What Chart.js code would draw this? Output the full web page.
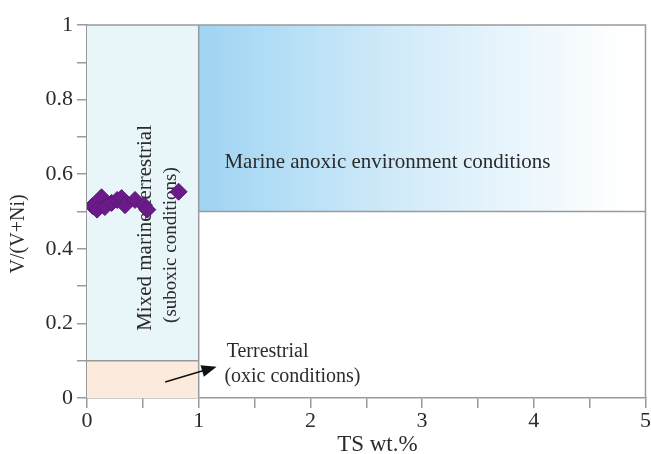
<!DOCTYPE html>
<html>
<head>
<meta charset="utf-8">
<script src="https://cdn.jsdelivr.net/npm/chart.js@4"></script>
<style>
  html, body { margin: 0; padding: 0; background: #fff; }
  #wrap { width: 651px; height: 454px; }
</style>
</head>
<body>
<div id="wrap"><canvas id="vni-chart"></canvas></div>
<script>
// Sample values: total sulphur (wt.%) vs V/(V+Ni)
const tsValues = [0.05, 0.09, 0.13, 0.16, 0.22, 0.27, 0.31, 0.34, 0.43, 0.51, 0.54, 0.82];
const vRatioValues = [0.515, 0.505, 0.538, 0.512, 0.523, 0.531, 0.536, 0.517, 0.531, 0.517, 0.505, 0.553];

// Field boundaries
const tsLimit = 1;
const anoxicLimit = 0.5;
const oxicLimit = 0.1;

const xTickLabels = ['0', '1', '2', '3', '4', '5'];
const yTickLabels = ['0', '0.2', '0.4', '0.6', '0.8', '1'];

const serif = '"Liberation Serif", "Times New Roman", serif';
const frameColor = '#9a9a9a';
const textColor = '#2b2b2b';

// Background fields, frame and labels
const fieldsPlugin = {
  id: 'fields',
  beforeDatasetsDraw(chart) {
    const { ctx, chartArea: a, scales: { x, y } } = chart;
    const x0 = x.getPixelForValue(0), x1 = x.getPixelForValue(tsLimit), x5 = x.getPixelForValue(5);
    const y0 = y.getPixelForValue(0), yOx = y.getPixelForValue(oxicLimit);
    const yAn = y.getPixelForValue(anoxicLimit), yTop = y.getPixelForValue(1);
    ctx.save();
    ctx.fillStyle = '#e8f5f9';
    ctx.fillRect(x0, yTop, x1 - x0, yOx - yTop);
    ctx.fillStyle = '#fcebdc';
    ctx.fillRect(x0, yOx, x1 - x0, y0 - yOx);
    const g = ctx.createLinearGradient(x1, 0, x5, 0);
    g.addColorStop(0, '#9fd4f3');
    g.addColorStop(0.45, '#d2ebf9');
    g.addColorStop(0.95, '#ffffff');
    ctx.fillStyle = g;
    ctx.fillRect(x1, yTop, x5 - x1, yAn - yTop);

    ctx.strokeStyle = frameColor;
    ctx.lineWidth = 1.5;
    ctx.beginPath();
    ctx.moveTo(x1, yTop); ctx.lineTo(x1, y0);
    ctx.moveTo(x1, yAn); ctx.lineTo(x5, yAn);
    ctx.moveTo(x0, yOx); ctx.lineTo(x1, yOx);
    ctx.moveTo(a.left, a.top); ctx.lineTo(a.right, a.top); ctx.lineTo(a.right, a.bottom);
    ctx.stroke();

    ctx.fillStyle = textColor;
    ctx.textBaseline = 'middle';
    ctx.textAlign = 'left';
    ctx.font = '21px ' + serif;
    ctx.fillText('Marine anoxic environment conditions', x.getPixelForValue(1.23), y.getPixelForValue(0.632));
    ctx.font = '20px ' + serif;
    ctx.fillText('Terrestrial', x.getPixelForValue(1.25), y.getPixelForValue(0.124));
    ctx.fillText('(oxic conditions)', x.getPixelForValue(1.23), y.getPixelForValue(0.056));

    ctx.textAlign = 'center';
    [['Mixed marine-terrestrial', 0.52, 0.456, 21], ['(suboxic conditions)', 0.755, 0.41, 19]].forEach(([t, tx, ty, size]) => {
      ctx.save();
      ctx.font = size + 'px ' + serif;
      ctx.translate(x.getPixelForValue(tx), y.getPixelForValue(ty));
      ctx.rotate(-Math.PI / 2);
      ctx.fillText(t, 0, 0);
      ctx.restore();
    });

    // arrow to the oxic field label
    const ax0 = x.getPixelForValue(0.7), ay0 = y.getPixelForValue(0.043);
    const ax1 = x.getPixelForValue(1.16), ay1 = y.getPixelForValue(0.084);
    const ang = Math.atan2(ay1 - ay0, ax1 - ax0);
    ctx.strokeStyle = '#111';
    ctx.lineWidth = 1.5;
    ctx.beginPath();
    ctx.moveTo(ax0, ay0);
    ctx.lineTo(ax1 - 10 * Math.cos(ang), ay1 - 10 * Math.sin(ang));
    ctx.stroke();
    ctx.fillStyle = '#111';
    ctx.beginPath();
    ctx.moveTo(ax1, ay1);
    ctx.lineTo(ax1 - 15 * Math.cos(ang) + 6 * Math.sin(ang), ay1 - 15 * Math.sin(ang) - 6 * Math.cos(ang));
    ctx.lineTo(ax1 - 15 * Math.cos(ang) - 6 * Math.sin(ang), ay1 - 15 * Math.sin(ang) + 6 * Math.cos(ang));
    ctx.closePath();
    ctx.fill();

    // axis titles
    ctx.fillStyle = textColor;
    ctx.textAlign = 'center';
    ctx.font = '23px ' + serif;
    ctx.fillText('TS wt.%', a.left + (a.right - a.left) * 0.52, 445);
    ctx.font = '20px ' + serif;
    ctx.save();
    ctx.translate(19, a.top + (a.bottom - a.top) * 0.56);
    ctx.rotate(-Math.PI / 2);
    ctx.fillText('V/(V+Ni)', 0, 0);
    ctx.restore();
    ctx.restore();
  }
};

const data = {
  datasets: [{
    label: 'Samples',
    data: tsValues.map((v, i) => ({ x: v, y: vRatioValues[i] })),
    pointStyle: 'rectRot',
    pointRadius: 8.5,
    backgroundColor: '#6b1b88',
    borderColor: '#5e1578',
    borderWidth: 1
  }]
};

const config = {
  type: 'scatter',
  data: data,
  options: {
    responsive: true,
    maintainAspectRatio: false,
    animation: false,
    layout: { autoPadding: false, padding: { top: 25, right: 3, left: 0, bottom: 0 } },
    plugins: {
      legend: { display: false },
      tooltip: { enabled: false }
    },
    scales: {
      x: {
        type: 'linear',
        min: 0, max: 5,
        afterFit(s) { s.height = 56; },
        border: { display: true, color: frameColor, width: 1.5 },
        grid: { drawOnChartArea: false, drawTicks: true, tickLength: 10, color: frameColor, lineWidth: 1.5 },
        ticks: {
          stepSize: 0.5,
          padding: 0,
          color: textColor,
          font: { family: serif, size: 22 },
          callback: (v) => Number.isInteger(v) ? xTickLabels[v] : ''
        }
      },
      y: {
        type: 'linear',
        min: 0, max: 1,
        afterFit(s) { s.width = 87; },
        border: { display: true, color: frameColor, width: 1.5 },
        grid: { drawOnChartArea: false, drawTicks: true, tickLength: 10, color: frameColor, lineWidth: 1.5 },
        ticks: {
          stepSize: 0.1,
          padding: 4,
          color: textColor,
          font: { family: serif, size: 22 },
          callback: (v) => {
            const k = Math.round(v * 10);
            return k % 2 === 0 ? yTickLabels[k / 2] : '';
          }
        }
      }
    }
  },
  plugins: [fieldsPlugin]
};

var vniChart = new Chart(document.getElementById('vni-chart'), config);
</script>
</body>
</html>
